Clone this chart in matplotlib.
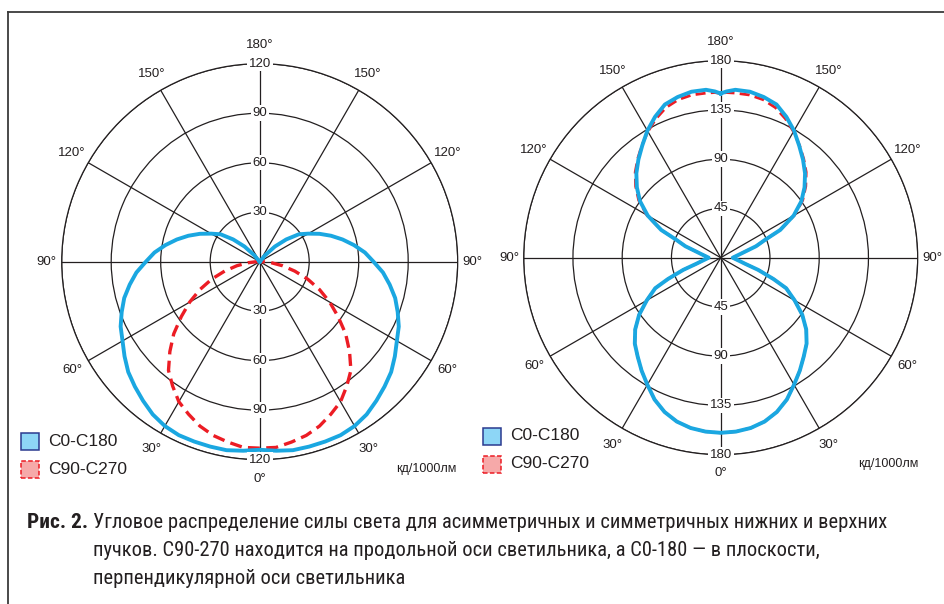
import numpy as np
import matplotlib
matplotlib.use('Agg')
import matplotlib.pyplot as plt
from matplotlib import font_manager
from matplotlib.patches import Rectangle
from matplotlib.lines import Line2D

plt.rcParams['font.family'] = ['Liberation Sans', 'DejaVu Sans']

# angles measured from the downward (0 deg) axis; curves are symmetric left/right
left_angles = list(range(0, 185, 5))
left_c0 = [114, 115, 116, 116, 116, 116, 115, 113, 110, 107, 104, 100, 96, 93, 89, 85,
           80, 75, 69, 64, 58, 52, 46, 40, 34, 29, 21, 13, 5, 0, 0, 0, 0, 0, 0, 0, 0]
left_c90 = [113, 113, 111, 109, 106, 102, 98, 92, 86, 77, 68, 58, 49, 40, 31, 22, 14, 7, 2,
            0, 0, 0, 0, 0, 0, 0, 0, 0, 0, 0, 0, 0, 0, 0, 0, 0, 0]
left_rings = [30, 60, 90, 120]

right_angles = [0, 5, 10, 15, 20, 25, 30, 35, 40, 45, 50, 55, 60, 65, 68, 72, 76, 80, 85, 90,
                95, 100, 104, 108, 112, 115, 120, 125, 130, 135, 140, 145, 150, 155, 160, 165,
                170, 175, 178, 180]
right_c0 = [160, 159.5, 158, 155, 150, 143, 134, 126, 118, 111, 102, 91, 78, 66, 52, 36, 23, 17.5, 13.4, 11,
            13.4, 17.5, 23, 34, 44, 60, 77, 90, 100, 109, 117, 125, 134, 142, 149, 152, 154, 154, 152, 150]
right_c90 = [160, 159.5, 158, 155, 150, 143, 134, 126, 118, 111, 102, 91, 78, 66, 52, 36, 23, 17.5, 13.4, 11,
             13.4, 17.5, 23, 34, 44, 60, 78, 91.5, 101.5, 110.5, 118, 125.5, 133, 140, 146, 149.5, 151, 151, 151, 150]
right_rings = [45, 90, 135, 180]

angle_labels = ['0°', '30°', '60°', '90°', '120°', '150°', '180°']
legend_names = ['C0-C180', 'C90-C270']
unit_text = 'кд/1000лм'
caption_head = 'Рис. 2.'
caption_lines = ['Угловое распределение силы света для асимметричных и симметричных нижних и верхних',
                 'пучков. С90-270 находится на продольной оси светильника, а С0-180 — в плоскости,',
                 'перпендикулярной оси светильника']

BLUE = '#1aa7e1'
RED = '#ec1c24'
GRID = '#231f20'
W, H = 945, 604


def mirror(angles, values):
    th = np.deg2rad(np.array(angles, dtype=float))
    r = np.array(values, dtype=float)
    return (np.concatenate([-th[::-1], th[1:]]),
            np.concatenate([r[::-1], r[1:]]))


def find_narrow(bold):
    # look for an installed condensed / narrow face for the caption
    prefs = ['RobotoCondensed', 'LiberationSansNarrow', 'DejaVuSansCondensed', 'OpenSansCondensed',
             'Condensed', 'Narrow']
    files = [f for f in font_manager.fontManager.ttflist if f.style == 'normal']
    for key in prefs:
        for f in files:
            name = f.fname.replace('-', '').replace('_', '')
            is_bold = f.weight in ('bold', 700, 'demibold', 600) or 'Bold' in f.fname
            if key in name and is_bold == bold and 'Italic' not in f.fname and 'Oblique' not in f.fname:
                return font_manager.FontProperties(fname=f.fname)
    return font_manager.FontProperties(family=['Liberation Sans', 'DejaVu Sans'],
                                       weight='bold' if bold else 'normal')


def polar_panel(fig, box, rings, angles, c0, c90, lw_red):
    x, y, s = box
    ax = fig.add_axes([x / W, 1 - (y + s) / H, s / W, s / H], projection='polar')
    ax.set_theta_zero_location('S')
    ax.set_ylim(0, rings[-1])
    ax.set_rgrids(rings, labels=[])
    ax.set_thetagrids(range(0, 360, 30), labels=[])
    ax.grid(True, color=GRID, lw=0.9)
    ax.tick_params(length=0)
    ax.spines['polar'].set_color(GRID)
    ax.spines['polar'].set_linewidth(0.9)

    th, r = mirror(angles, c90)
    ax.plot(th, r, color=RED, lw=lw_red, dashes=(3.6, 1.9), zorder=4)
    th, r = mirror(angles, c0)
    ax.plot(th, r, color=BLUE, lw=2.8, zorder=5, solid_joinstyle='round')

    for v in rings:
        for t in (0, np.pi):
            ax.text(t, v, str(v), ha='center', va='center', fontsize=9.5, color=GRID,
                    zorder=6, bbox=dict(facecolor='white', edgecolor='none', pad=1.2))
    rmax = rings[-1]
    for i, lab in enumerate(angle_labels):
        a = np.deg2rad(30 * i)
        rr = rmax * (1.075 if i == 3 else 1.095)
        sides = [a] if i in (0, 6) else [a, -a]
        for t in sides:
            ax.text(t, rr, lab, ha='center', va='center', fontsize=9.5, color=GRID)
    return ax


fig = plt.figure(figsize=(W / 100, H / 100), dpi=100)

polar_panel(fig, (61.7, 63.7, 396), left_rings, left_angles, left_c0, left_c90, 2.4)
polar_panel(fig, (523.7, 60.7, 394), right_rings, right_angles, right_c0, right_c90, 2.0)

# legends
for (lx, ly0, ly1) in [(21, 441, 469), (483, 436, 464)]:
    fig.add_artist(Rectangle((lx / W, 1 - (ly0 + 8.5) / H), 18 / W, 17 / H,
                             transform=fig.transFigure, facecolor='#8dd6f6',
                             edgecolor='#2b3a90', lw=1.1))
    fig.add_artist(Rectangle((lx / W, 1 - (ly1 + 8.5) / H), 18 / W, 17 / H,
                             transform=fig.transFigure, facecolor='#f6a9a9',
                             edgecolor=RED, lw=1.1, ls=(0, (3, 1.5))))
    fig.text((lx + 27) / W, 1 - ly0 / H, legend_names[0], fontsize=12.5, va='center', color=GRID)
    fig.text((lx + 27) / W, 1 - ly1 / H, legend_names[1], fontsize=12.5, va='center', color=GRID)

fig.text(426 / W, 1 - 469 / H, unit_text, fontsize=9, ha='center', va='center', color=GRID)
fig.text(888 / W, 1 - 464 / H, unit_text, fontsize=9, ha='center', va='center', color=GRID)

# frame
fig.add_artist(Line2D([8 / W, 1], [1 - 12 / H] * 2, transform=fig.transFigure, color='#3a3a3a', lw=1.3))
fig.add_artist(Line2D([8 / W] * 2, [0, 1 - 12 / H], transform=fig.transFigure, color='#3a3a3a', lw=1.3))

# caption: fit the font size so that the lines span the same width as in the original
reg_fp = find_narrow(False)
bold_fp = find_narrow(True)
renderer = fig.canvas.get_renderer()

head = fig.text(27 / W, 1 - 523 / H, caption_head, fontproperties=bold_fp, va='center', color=GRID)
head.set_fontsize(14)
hw = head.get_window_extent(renderer).width
head.set_fontsize(14 * 61 / hw)

cap = []
for i, line in enumerate(caption_lines):
    t = fig.text(93 / W, 1 - (523 + 27.5 * i) / H, line, fontproperties=reg_fp,
                 va='center', color=GRID)
    t.set_fontsize(14)
    cap.append(t)
lw0 = cap[0].get_window_extent(renderer).width
size = min(14 * 792 / lw0, 17)
for t in cap:
    t.set_fontsize(size)

fig.savefig('out.png', dpi=100)
